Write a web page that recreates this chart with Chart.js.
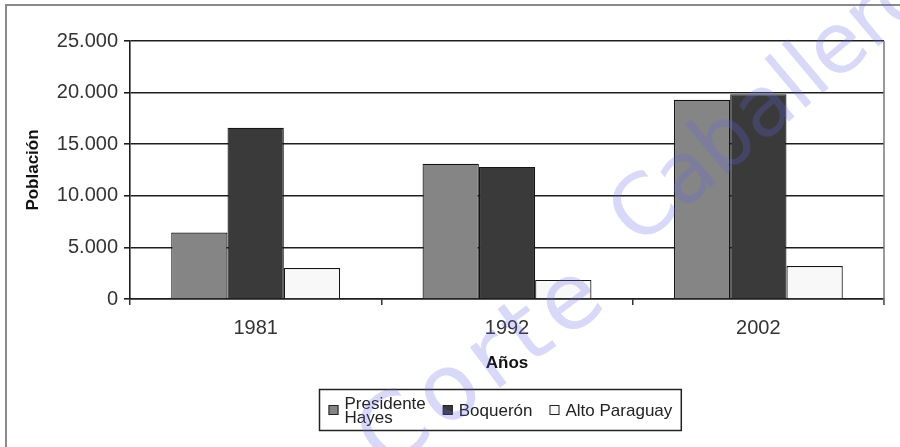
<!DOCTYPE html>
<html>
<head>
<meta charset="utf-8">
<script src="https://cdn.jsdelivr.net/npm/chart.js@4.4.1/dist/chart.umd.min.js"></script>
<style>
  html, body { margin: 0; padding: 0; background: #ffffff; }
  #wrap { position: relative; width: 900px; height: 447px; }
</style>
</head>
<body>
<div id="wrap"><canvas id="c" width="900" height="447"></canvas></div>
<script>
// Población por año censal (departamentos del Chaco)
const years = ['1981', '1992', '2002'];
const seriesLabels = ['Presidente Hayes', 'Boquerón', 'Alto Paraguay'];
const presidenteHayes = [6450, 13100, 19300];
const boqueron = [16600, 12800, 19850];
const altoParaguay = [3000, 1850, 3200];
const yTickValues = [0, 5000, 10000, 15000, 20000, 25000];

const seriesColors = ['#858585', '#3a3a3a', '#f8f8f8'];
const FONT = '"Liberation Sans", Arial, Helvetica, sans-serif';

// miles con punto: 25000 -> "25.000"
const fmt = v => String(v).replace(/\B(?=(\d{3})+(?!\d))/g, '.');

// marco exterior, borde derecho del área de trazado
const framePlugin = {
  id: 'frame',
  beforeDraw(chart) {
    const ctx = chart.ctx;
    ctx.save();
    ctx.strokeStyle = '#8a8a8a';
    ctx.lineWidth = 2;
    ctx.beginPath();
    ctx.moveTo(6, 447);
    ctx.lineTo(6, 5);
    ctx.lineTo(900, 5);
    ctx.stroke();
    ctx.restore();
  },
  afterDatasetsDraw(chart) {
    const { ctx, chartArea } = chart;
    ctx.save();
    ctx.strokeStyle = '#777';
    ctx.lineWidth = 1.5;
    ctx.beginPath();
    ctx.moveTo(chartArea.right, chartArea.top);
    ctx.lineTo(chartArea.right, chartArea.bottom + 6);
    ctx.stroke();
    ctx.restore();
  }
};

// leyenda en recuadro, con ajuste de línea para etiquetas largas
const boxLegend = {
  id: 'boxLegend',
  afterDraw(chart, args, opts) {
    const ctx = chart.ctx;
    const size = 17, lineH = 14, sw = 10, gapText = 6, gapItem = 17, padX = 9;
    ctx.save();
    ctx.font = size + 'px ' + FONT;
    const items = chart.data.datasets.map(ds => {
      const words = ds.label.split(' ');
      let lines = [ds.label];
      if (ctx.measureText(ds.label).width > opts.wrapWidth) {
        lines = [];
        let cur = '';
        words.forEach(w => {
          const t = cur ? cur + ' ' + w : w;
          if (cur && ctx.measureText(t).width > opts.wrapWidth) { lines.push(cur); cur = w; }
          else cur = t;
        });
        if (cur) lines.push(cur);
      }
      const w = Math.max(...lines.map(l => ctx.measureText(l).width));
      return { lines, w, fill: ds.backgroundColor };
    });
    const total = items.reduce((s, it) => s + sw + gapText + it.w, 0) + gapItem * (items.length - 1) + padX * 2;
    const left = Math.round(opts.centerX - total / 2) + 0.5;
    const top = opts.top + 0.5, h = opts.height;
    ctx.strokeStyle = '#222';
    ctx.lineWidth = 1.5;
    ctx.strokeRect(left, top, total, h);
    const midY = top + h / 2;
    let x = left + padX;
    ctx.textBaseline = 'middle';
    ctx.textAlign = 'left';
    items.forEach(it => {
      ctx.fillStyle = it.fill;
      ctx.fillRect(x, midY - sw / 2, sw, sw);
      ctx.strokeStyle = '#222';
      ctx.lineWidth = 1;
      ctx.strokeRect(x + 0.5, midY - sw / 2 + 0.5, sw - 1, sw - 1);
      ctx.fillStyle = '#222';
      const n = it.lines.length;
      it.lines.forEach((l, i) => {
        ctx.fillText(l, x + sw + gapText, midY + (i - (n - 1) / 2) * lineH + 1);
      });
      x += sw + gapText + it.w + gapItem;
    });
    ctx.restore();
  }
};

// marca de agua diagonal, en dos tramos
const watermark = {
  id: 'watermark',
  afterDraw(chart, args, opts) {
    const ctx = chart.ctx;
    opts.runs.forEach(r => {
      ctx.save();
      ctx.translate(r.x, r.y);
      ctx.rotate(-r.angle * Math.PI / 180);
      ctx.font = r.size + 'px "DejaVu Sans", sans-serif';
      if ('letterSpacing' in ctx) ctx.letterSpacing = r.spacing + 'px';
      ctx.fillStyle = 'rgba(100, 100, 230, 0.25)';
      ctx.textBaseline = 'alphabetic';
      ctx.fillText(r.text, 0, 0);
      ctx.restore();
    });
  }
};

new Chart(document.getElementById('c'), {
  type: 'bar',
  data: {
    labels: years,
    datasets: [
      { label: seriesLabels[0], data: presidenteHayes, backgroundColor: seriesColors[0] },
      { label: seriesLabels[1], data: boqueron, backgroundColor: seriesColors[1] },
      { label: seriesLabels[2], data: altoParaguay, backgroundColor: seriesColors[2] }
    ].map(ds => Object.assign(ds, {
      borderColor: '#151515',
      borderWidth: 1.2,
      categoryPercentage: 0.672,
      barPercentage: 1.0
    }))
  },
  options: {
    responsive: false,
    animation: false,
    devicePixelRatio: 1,
    layout: { padding: { top: 41, right: 16, bottom: 67, left: 0 } },
    plugins: {
      legend: { display: false },
      tooltip: { enabled: false },
      boxLegend: { wrapWidth: 110, top: 389, height: 41, centerX: 500 },
      watermark: {
        runs: [
          { text: '-Corte', x: 353, y: 497, angle: 36.6, size: 92, spacing: 7 },
          { text: 'Caballero', x: 638, y: 248, angle: 40, size: 84, spacing: -1 }
        ]
      }
    },
    scales: {
      x: {
        grid: { drawOnChartArea: false, drawTicks: true, tickLength: 6, color: '#333', lineWidth: 1.5, offset: true },
        border: { color: '#1e1e1e', width: 1.6 },
        ticks: { color: '#333', font: { family: FONT, size: 20 }, padding: 11 },
        title: {
          display: true, text: 'Años', color: '#111',
          font: { family: FONT, size: 17, weight: 'bold' },
          padding: { top: 4, bottom: 6 }
        },
        afterFit(s) { s.height = 81; }
      },
      y: {
        min: 0,
        max: 25000,
        afterBuildTicks(s) { s.ticks = yTickValues.map(v => ({ value: v })); },
        grid: { color: '#1e1e1e', lineWidth: 1.6, tickLength: 6 },
        border: { color: '#1e1e1e', width: 1.6 },
        ticks: { color: '#333', font: { family: FONT, size: 20 }, padding: 6, callback: v => fmt(v) },
        title: {
          display: true, text: 'Población', color: '#111',
          font: { family: FONT, size: 17, weight: 'bold' },
          padding: { top: 23, bottom: 0 }
        },
        afterFit(s) { s.width = 130; }
      }
    }
  },
  plugins: [framePlugin, boxLegend, watermark]
});
</script>
</body>
</html>
